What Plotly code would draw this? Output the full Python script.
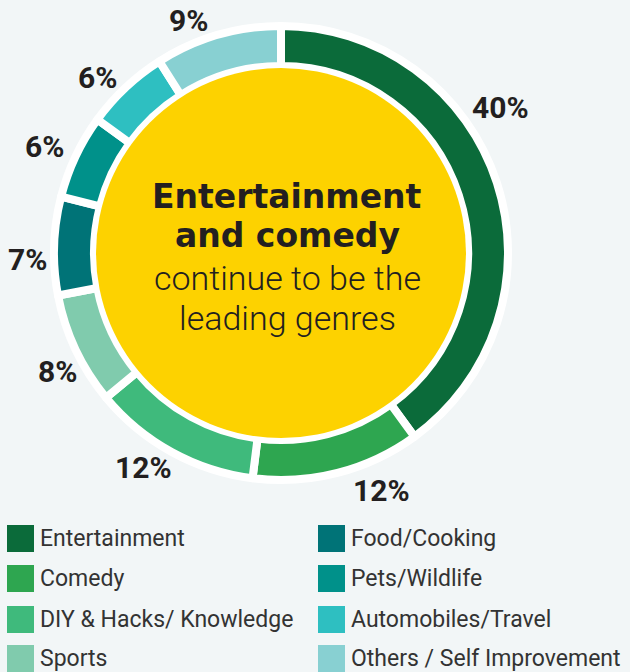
import plotly.graph_objects as go

categories = ["Entertainment", "Comedy", "DIY & Hacks/ Knowledge", "Sports",
              "Food/Cooking", "Pets/Wildlife", "Automobiles/Travel", "Others / Self Improvement"]
values = [40, 12, 12, 8, 7, 6, 6, 9]
colors = ["#0b6b3a", "#2ea650", "#3fba7c", "#80cbad",
          "#007377", "#00918a", "#2ebfc1", "#88d0d2"]

W, H = 630, 672
BG = "#f2f6f7"
cx, cy = 281, 253          # pixel centre of the donut
R = 227                    # pie radius in px (stroke included)
hole = 187 / R

def px(x):
    return x / W

def py(y):
    return 1 - y / H

fig = go.Figure()
fig.add_trace(go.Pie(
    labels=categories, values=values, sort=False, direction="clockwise",
    hole=hole, marker=dict(colors=colors, line=dict(color="white", width=8)),
    textinfo="none", hoverinfo="label+percent", showlegend=False,
    domain=dict(x=[px(cx - R), px(cx + R)], y=[py(cy + R), py(cy - R)]),
))

shapes = []
# yellow centre disc
ry = 185
shapes.append(dict(type="circle", xref="paper", yref="paper",
                   x0=px(cx - ry), x1=px(cx + ry), y0=py(cy + ry), y1=py(cy - ry),
                   fillcolor="#fdd200", line=dict(width=0), layer="above"))

annotations = []
# percentage labels (placement positions, px)
label_pos = [(500, 107), (381, 490), (143, 467), (57, 371),
             (27, 259), (44, 146), (97, 77), (188, 20)]
total = sum(values)
for v, (lx, ly) in zip(values, label_pos):
    annotations.append(dict(x=px(lx), y=py(ly), xref="paper", yref="paper",
                            text=f"<b>{round(100 * v / total)}%</b>", showarrow=False,
                            font=dict(family="Roboto, Arial", size=30, color="#231f20"),
                            xanchor="center", yanchor="middle"))

# centre text
center_lines = [("<b>Entertainment</b>", 196, "DejaVu Sans", 33, 700),
                ("<b>and comedy</b>", 236, "DejaVu Sans", 33, 700),
                ("continue to be the", 278, "Roboto", 34, 300),
                ("leading genres", 318, "Roboto", 34, 300)]
for t, ly, fam, fs, wt in center_lines:
    annotations.append(dict(x=px(287), y=py(ly), xref="paper", yref="paper", text=t,
                            showarrow=False, xanchor="center", yanchor="middle",
                            font=dict(family=fam, size=fs, color="#231f20", weight=wt)))

# legend (two columns)
col_x = [7, 318]
row_y = [538.5, 578.5, 619.5, 658.5]
sq = 27
for i, (name, c) in enumerate(zip(categories, colors)):
    col, row = divmod(i, 4)
    x0 = col_x[col]
    yc = row_y[row]
    shapes.append(dict(type="rect", xref="paper", yref="paper",
                       x0=px(x0), x1=px(x0 + sq), y0=py(yc + sq / 2), y1=py(yc - sq / 2),
                       fillcolor=c, line=dict(width=0)))
    annotations.append(dict(x=px(x0 + sq + 4), y=py(yc), xref="paper", yref="paper",
                            text=name, showarrow=False, xanchor="left", yanchor="middle",
                            font=dict(family="Roboto, Arial", size=23, color="#333333")))

fig.update_layout(width=W, height=H, margin=dict(l=0, r=0, t=0, b=0),
                  paper_bgcolor=BG, plot_bgcolor=BG, shapes=shapes,
                  annotations=annotations, showlegend=False)
fig.write_html("out.html", config={"displayModeBar": False},
               post_script="document.body.style.margin='0px';document.body.style.background='#f2f6f7';")
